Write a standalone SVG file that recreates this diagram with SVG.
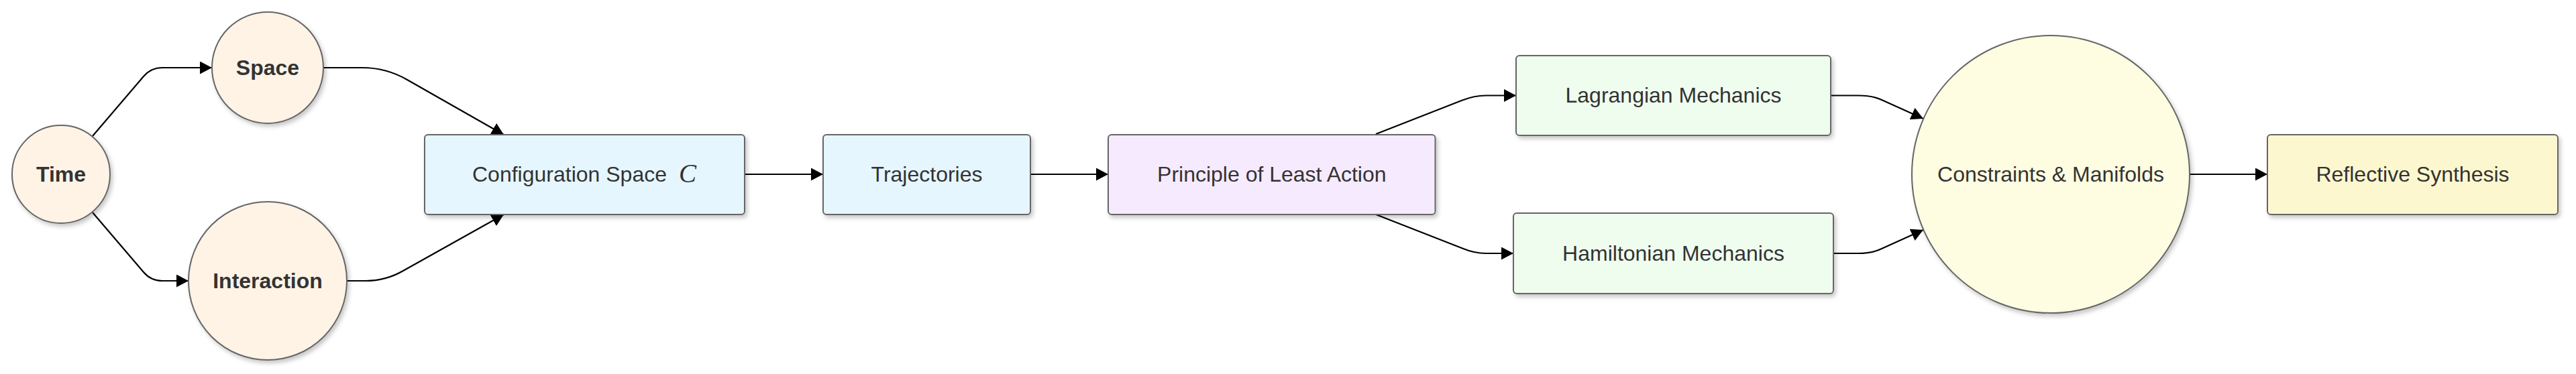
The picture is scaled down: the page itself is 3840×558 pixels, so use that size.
<svg xmlns="http://www.w3.org/2000/svg" width="3840" height="558" viewBox="0 0 3840 558">
<defs>
<filter id="sh" x="-10%" y="-10%" width="130%" height="140%">
<feDropShadow dx="3" dy="4" stdDeviation="3" flood-color="#000" flood-opacity="0.22"/>
</filter>
<marker id="ah" viewBox="0 0 10 10" refX="10" refY="5" markerWidth="18" markerHeight="19" markerUnits="userSpaceOnUse" orient="auto" preserveAspectRatio="none">
<path d="M0,0 L10,5 L0,10 z" fill="#000"/>
</marker>
</defs>
<style>
.n{stroke:#666;stroke-width:2;filter:url(#sh)}
.t{font-family:"Liberation Sans",Arial,Helvetica,sans-serif;font-size:32px;fill:#333;text-anchor:middle}
.b{font-weight:bold}
.e{fill:none;stroke:#000;stroke-width:2.2;marker-end:url(#ah)}
.peach{fill:#fff3e6}
.blue{fill:#e6f6fe}
.purple{fill:#f6eafe}
.green{fill:#effdef}
.cyel{fill:#fefde1}
.ryel{fill:#fdf7cf}
</style>
<rect width="3840" height="558" fill="#fff"/>
<g id="connectors">
<path class="e" d="M138,203 L214,114 Q225,101 242,101 L316,101"/>
<path class="e" d="M138,317 L214,406 Q225,419 242,419 L281,419"/>
<path class="e" d="M482,101 L540,101 Q576,101 607,119 L751,201"/>
<path class="e" d="M516,419 L545,419 Q575,419 601,404 L751,320"/>
<path class="e" d="M1110,260 L1227,260"/>
<path class="e" d="M1536,260 L1652,260"/>
<path class="e" d="M2051,200 L2180,149.5 Q2198,142.5 2215,142.5 L2260,142.5"/>
<path class="e" d="M2051,320 L2180,370.5 Q2198,378 2215,378 L2256,378"/>
<path class="e" d="M2729,142.5 L2770,142.5 Q2791,142.5 2805,149 L2867,177"/>
<path class="e" d="M2733,378 L2770,378 Q2791,378 2805,371 L2867,343"/>
<path class="e" d="M3264,260 L3380,260"/>
</g>
<g id="time">
<circle class="n peach" cx="91" cy="260" r="73"/>
<text class="t b" x="91" y="270.5">Time</text>
</g>
<g id="space">
<circle class="n peach" cx="399" cy="101" r="83"/>
<text class="t b" x="399" y="111.5">Space</text>
</g>
<g id="interaction">
<circle class="n peach" cx="399" cy="419" r="118"/>
<text class="t b" x="399" y="429.5">Interaction</text>
</g>
<g id="config">
<rect class="n blue" x="633" y="201" width="477" height="119" rx="5"/>
<text class="t" x="704" y="270.5" style="text-anchor:start">Configuration Space</text>
<text x="1012" y="272" style="font-family:'Liberation Serif','Times New Roman',serif;font-style:italic;font-size:39px;fill:#333">C</text>
</g>
<g id="trajectories">
<rect class="n blue" x="1227" y="201" width="309" height="119" rx="5"/>
<text class="t" x="1381.5" y="270.5">Trajectories</text>
</g>
<g id="principle">
<rect class="n purple" x="1652" y="201" width="487.5" height="119" rx="5"/>
<text class="t" x="1895.8" y="270.5">Principle of Least Action</text>
</g>
<g id="lagrangian">
<rect class="n green" x="2260" y="83" width="469" height="119" rx="5"/>
<text class="t" x="2494.5" y="153">Lagrangian Mechanics</text>
</g>
<g id="hamiltonian">
<rect class="n green" x="2256" y="318" width="477" height="120" rx="5"/>
<text class="t" x="2494.5" y="388.5">Hamiltonian Mechanics</text>
</g>
<g id="constraints">
<circle class="n cyel" cx="3057" cy="260" r="207"/>
<text class="t" x="3057" y="270.5">Constraints &amp; Manifolds</text>
</g>
<g id="reflective">
<rect class="n ryel" x="3380" y="201" width="433" height="119" rx="5"/>
<text class="t" x="3596.5" y="270.5">Reflective Synthesis</text>
</g>
</svg>
